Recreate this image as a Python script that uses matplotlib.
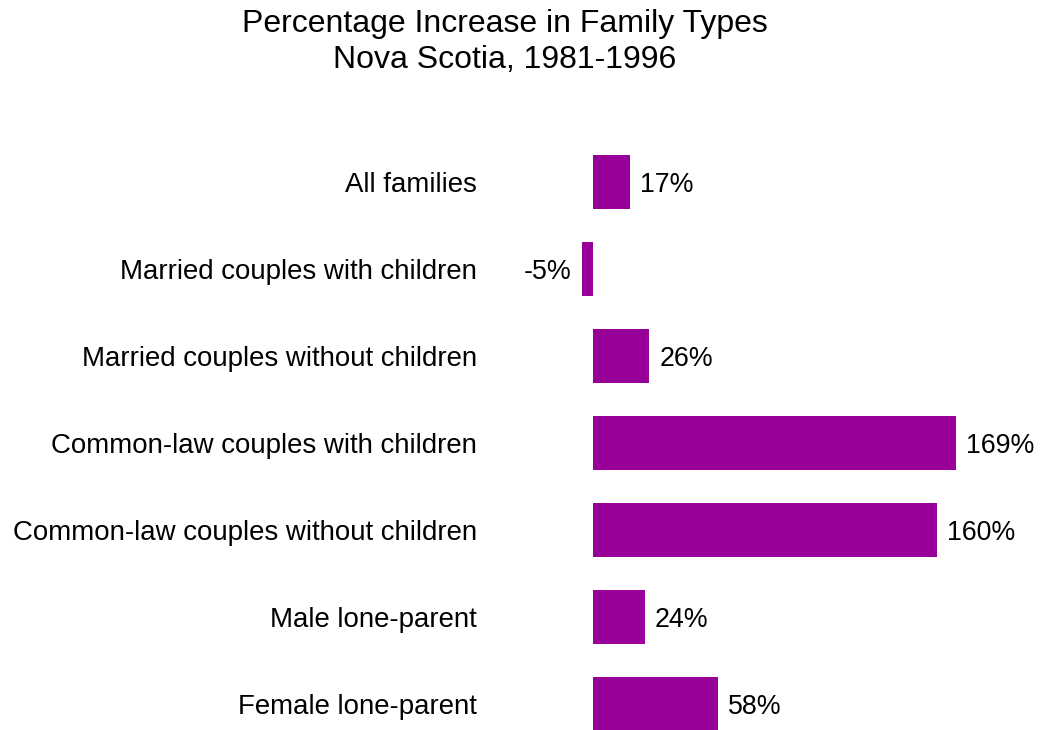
import matplotlib

matplotlib.use("Agg")
import matplotlib.pyplot as plt

plt.rcParams["font.family"] = ["Liberation Sans", "DejaVu Sans"]

categories = [
    "All families",
    "Married couples with children",
    "Married couples without children",
    "Common-law couples with children",
    "Common-law couples without children",
    "Male lone-parent",
    "Female lone-parent",
]
increase = [17, -5, 26, 169, 160, 24, 58]

W, H = 1042, 730
fig = plt.figure(figsize=(W / 100, H / 100), dpi=100)

# axes placed in pixel terms: zero line at x=593, 169% at x=956
px_per = (956 - 593) / 169
ax_l, ax_r = 560, 1000
ax = fig.add_axes([ax_l / W, 0, (ax_r - ax_l) / W, (H - 138.5) / H])
ax.set_xlim((ax_l - 593) / px_per, (ax_r - 593) / px_per)
ax.set_ylim((H - 182) / 87, -0.5)

y = range(len(categories))
ax.barh(y, increase, height=0.61, color="#990099")

for i, v in zip(y, increase):
    if v >= 0:
        ax.annotate(f"{v}%", (v, i), xytext=(7.5, -2.5), textcoords="offset points",
                    ha="left", va="center", fontsize=19.3)
    else:
        ax.annotate(f"{v}%", (v, i), xytext=(-7.5, -2.5), textcoords="offset points",
                    ha="right", va="center", fontsize=19.3)

ax.set_yticks(list(y))
ax.set_yticklabels(categories, fontsize=19.9)
ax.tick_params(axis="y", length=0, pad=(ax_l - 477) * 0.72)
ax.set_xticks([])
for s in ax.spines.values():
    s.set_visible(False)

fig.text(505 / W, 1 - 9 / H, "Percentage Increase in Family Types\nNova Scotia, 1981-1996",
         ha="center", va="top", fontsize=23, linespacing=1.25)

fig.savefig("out.png", dpi=100)
